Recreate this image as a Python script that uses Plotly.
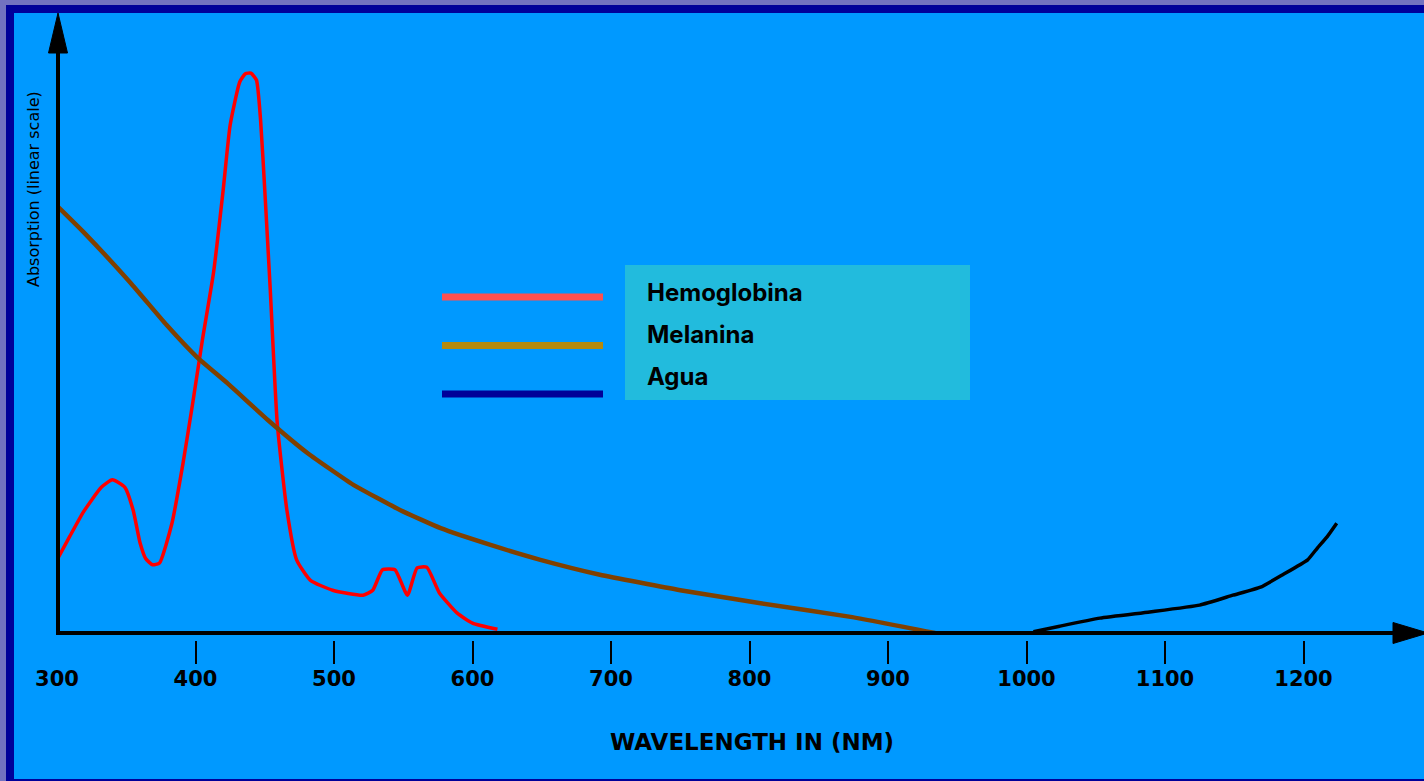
import plotly.graph_objects as go

# ---- data ----
hb_nm = [300, 309, 319, 332, 340, 349, 355, 360, 364, 369, 374, 383, 391, 398, 405, 413,
         420, 425, 432, 436, 440, 444, 447, 450, 454, 459, 466, 473, 483, 499, 521,
         528, 535, 544, 553, 560, 567, 576, 589, 600, 618]
hb_abs = [11.8, 15.5, 19.5, 23.5, 24.7, 23.5, 19.8, 14.5, 12.0, 11.0, 11.3, 17.7, 27.4, 37.1, 47.3, 58.1,
          71.5, 81.9, 88.9, 90.2, 90.3, 89.2, 82.7, 71.5, 55.3, 33.9, 19.8, 11.8, 8.5, 6.9, 6.1,
          6.9, 10.2, 10.2, 6.1, 10.5, 10.6, 6.5, 3.2, 1.6, 0.6]

mel_nm = [300, 319, 353, 379, 401, 423, 452, 481, 514, 548, 577, 613, 649, 692, 750, 808, 873, 934]
mel_abs = [68.9, 64.7, 56.5, 49.7, 44.5, 40.3, 34.4, 29.0, 23.9, 19.8, 16.9, 14.2, 11.8, 9.4, 6.9, 4.8, 2.6, 0.0]

water_nm = [1005, 1024, 1053, 1089, 1125, 1149, 1169, 1185, 1203, 1210, 1217, 1224]
water_abs = [0.2, 1.1, 2.4, 3.4, 4.5, 6.1, 7.4, 9.4, 11.8, 13.7, 15.5, 17.7]

tick_vals = [300, 400, 500, 600, 700, 800, 900, 1000, 1100, 1200]
tick_text = [str(v) for v in tick_vals]
tick_mark_vals = [400, 500, 600, 700, 800, 900, 1000, 1100, 1200]

legend_labels = ["Hemoglobina", "Melanina", "Agua"]
legend_colors = ["#FF5050", "#B58A0E", "#000099"]

x_title = "WAVELENGTH IN (NM)"
y_title = "Absorption (linear scale)"

# ---- layout geometry (pixels) ----
W, H = 1424, 781
ML, MR, MT, MB = 57, 0, 13, 141
PW = W - ML - MR
PH = H - MT - MB


def px(x):
    return (x - ML) / PW


def py(y):
    return (H - MB - y) / PH


fig = go.Figure()
fig.add_trace(go.Scatter(x=hb_nm, y=hb_abs, mode="lines",
                         line=dict(color="#FF0000", width=3.5, shape="spline", smoothing=0.5),
                         name=legend_labels[0], hoverinfo="skip"))
fig.add_trace(go.Scatter(x=mel_nm, y=mel_abs, mode="lines",
                         line=dict(color="#804000", width=4.5, shape="spline", smoothing=0.4),
                         name=legend_labels[1], hoverinfo="skip"))
fig.add_trace(go.Scatter(x=water_nm, y=water_abs, mode="lines",
                         line=dict(color="#000000", width=3.5, shape="spline", smoothing=0.4),
                         name=legend_labels[2], hoverinfo="skip"))
# invisible trace on the tick-mark axis so that it is drawn
fig.add_trace(go.Scatter(x=[tick_vals[0]], y=[0], xaxis="x2", mode="markers",
                         marker=dict(opacity=0), hoverinfo="skip", showlegend=False))

shapes = [
    # navy frame and blue field
    dict(type="rect", xref="paper", yref="paper", x0=px(6), x1=px(W + 20), y0=py(H + 20), y1=py(5),
         fillcolor="#000099", line=dict(width=0), layer="below"),
    dict(type="rect", xref="paper", yref="paper", x0=px(14), x1=px(W + 20), y0=py(779), y1=py(13),
         fillcolor="#0099FF", line=dict(width=0), layer="below"),
    # axis lines
    dict(type="line", xref="paper", yref="paper", x0=px(58), x1=px(58), y0=py(635), y1=py(40),
         line=dict(color="black", width=4), layer="above"),
    dict(type="line", xref="paper", yref="paper", x0=px(56), x1=px(1400), y0=py(633), y1=py(633),
         line=dict(color="black", width=4), layer="above"),
    # arrowheads
    dict(type="path", xref="paper", yref="paper",
         path=f"M {px(58)},{py(13)} L {px(67.5)},{py(53)} L {px(48.5)},{py(53)} Z",
         fillcolor="black", line=dict(color="black", width=1), layer="above"),
    dict(type="path", xref="paper", yref="paper",
         path=f"M {px(1428)},{py(633)} L {px(1393)},{py(622.5)} L {px(1393)},{py(643.5)} Z",
         fillcolor="black", line=dict(color="black", width=1), layer="above"),
    # legend box
    dict(type="rect", xref="paper", yref="paper", x0=px(625), x1=px(970), y0=py(400), y1=py(265),
         fillcolor="#22BBDD", line=dict(width=0), layer="above"),
]
leg_line_y = [297, 345.5, 394]
for c, yy in zip(legend_colors, leg_line_y):
    shapes.append(dict(type="line", xref="paper", yref="paper", x0=px(442), x1=px(603),
                       y0=py(yy), y1=py(yy), line=dict(color=c, width=7), layer="above"))

annotations = []
leg_text_y = [292, 334, 376]
for lab, yy in zip(legend_labels, leg_text_y):
    annotations.append(dict(text=lab, xref="paper", yref="paper", x=px(645), y=py(yy),
                            xanchor="left", yanchor="middle", showarrow=False,
                            font=dict(family="Inter", size=24, color="black", weight="bold")))
annotations.append(dict(text=x_title, xref="paper", yref="paper", x=px(752), y=py(742),
                        xanchor="center", yanchor="middle", showarrow=False,
                        font=dict(family="DejaVu Sans", size=23, color="black", weight="bold")))
annotations.append(dict(text=y_title, xref="paper", yref="paper", x=px(33), y=py(189),
                        xanchor="center", yanchor="middle", showarrow=False, textangle=-90,
                        font=dict(family="DejaVu Sans", size=16, color="black")))

fig.update_layout(
    width=W, height=H,
    margin=dict(l=ML, r=MR, t=MT, b=MB, pad=0),
    paper_bgcolor="#7272C0",
    plot_bgcolor="rgba(0,0,0,0)",
    showlegend=False,
    shapes=shapes,
    annotations=annotations,
    xaxis=dict(range=[300, 1287], anchor="free", position=0,
               tickmode="array", tickvals=tick_vals, ticktext=tick_text,
               ticks="", showline=False, showgrid=False, zeroline=False,
               tickfont=dict(family="DejaVu Sans", size=21, color="black", weight="bold"),
               ticklabelstandoff=24),
    xaxis2=dict(range=[300, 1287], anchor="free", position=0, overlaying="x", side="bottom",
                tickmode="array", tickvals=tick_mark_vals, showticklabels=False,
                ticks="outside", ticklen=23, tickwidth=2, tickcolor="black",
                showline=False, showgrid=False, zeroline=False),
    yaxis=dict(range=[0, 100], domain=[7 / PH, 1], showticklabels=False, ticks="",
               showline=False, showgrid=False, zeroline=False),
    hovermode=False,
)

fig.write_html("out.html", config={"displayModeBar": False},
               post_script="document.body.style.margin='0';document.body.style.overflow='hidden';")
